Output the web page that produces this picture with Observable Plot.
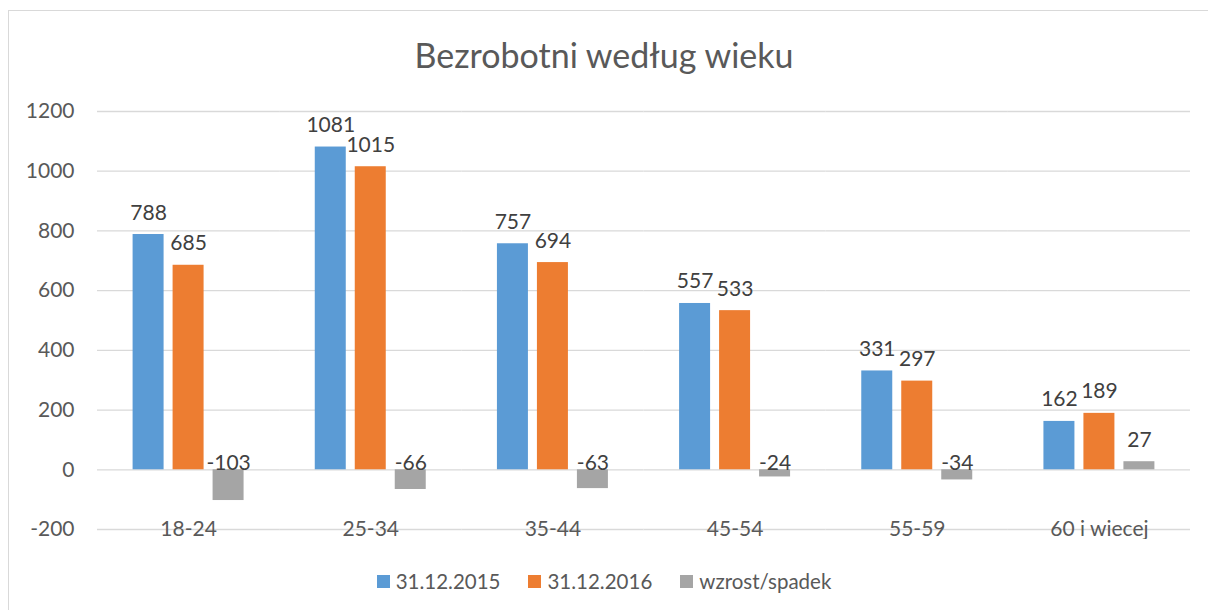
<!DOCTYPE html>
<html><head><meta charset="utf-8">
<script src="https://cdn.jsdelivr.net/npm/d3@7"></script>
<script src="https://cdn.jsdelivr.net/npm/@observablehq/plot@0.6"></script>
<style>
html,body{margin:0;padding:0;background:#fff;}
#wrap{position:relative;width:1208px;height:610px;overflow:hidden;font-family:Lato,"Open Sans",sans-serif;color:#595959;}
#frame{position:absolute;left:8px;top:10px;width:1210px;height:610px;border-left:1.5px solid #d9d9d9;border-top:1.5px solid #d9d9d9;box-sizing:border-box;}
#title{position:absolute;left:0;top:34px;width:1208px;text-align:center;font-size:34px;line-height:42px;}
#chart{position:absolute;left:0;top:88px;}
#legend{position:absolute;left:0;top:568px;width:1208px;display:flex;justify-content:center;font-size:20.5px;line-height:26px;}
#legend .item{display:flex;align-items:center;margin:0 14px;}
#legend .sw{width:13px;height:13px;margin-right:6px;}
</style>
</head><body>
<div id="wrap">
<div id="frame"></div>
<div id="title">Bezrobotni według wieku</div>
<div id="chart"></div>
<div id="legend"></div>
</div>
<script>
const categories = ["18-24","25-34","35-44","45-54","55-59","60 i wiecej"];
const seriesNames = ["31.12.2015","31.12.2016","wzrost/spadek"];
const values2015 = [788,1081,757,557,331,162];
const values2016 = [685,1015,694,533,297,189];
const valuesChange = [-103,-66,-63,-24,-34,27];
const seriesColors = ["#5B9BD5","#ED7D31","#A5A5A5"];
const yTicks = [-200,0,200,400,600,800,1000,1200];

const seriesValues = [values2015, values2016, valuesChange];
const rows = [];
categories.forEach((c,i)=>{
  seriesNames.forEach((s,j)=>{
    rows.push({cat:c, series:s, value:seriesValues[j][i]});
  });
});

const chart = Plot.plot({
  width:1208, height:451,
  marginTop:23, marginBottom:10, marginLeft:97, marginRight:18,
  style:{fontFamily:'Lato,"Open Sans",sans-serif', fontSize:"21px", color:"#595959", background:"transparent"},
  fx:{domain:categories, padding:0, axis:null, round:false},
  x:{domain:seriesNames, paddingInner:0.225, paddingOuter:0.89, axis:null, round:false},
  y:{domain:[-200,1200], axis:null},
  color:{domain:seriesNames, range:seriesColors},
  marks:[
    Plot.gridY(yTicks,{stroke:"#d9d9d9", strokeOpacity:1, strokeWidth:1.3}),
    Plot.barY(rows,{fx:"cat", x:"series", y:"value", fill:"series"}),
    Plot.text(rows.filter(d=>d.value>0),{fx:"cat", x:"series", y:"value", text:d=>String(d.value), lineAnchor:"bottom", dy:-15, fill:"#404040", fontSize:21}),
    Plot.text(rows.filter(d=>d.value<=0),{fx:"cat", x:"series", y:()=>0, text:d=>String(d.value), lineAnchor:"bottom", dy:0, fill:"#404040", fontSize:21}),
    Plot.text(categories,{fx:d=>d, y:()=>-200, text:d=>d, lineAnchor:"middle", fill:"#595959", fontSize:21}),
    Plot.axisY(yTicks,{tickSize:0, tickPadding:23, fontSize:21, fill:"#595959", label:null, tickFormat:d=>String(d)})
  ]
});
document.getElementById("chart").appendChild(chart);

const legend = document.getElementById("legend");
seriesNames.forEach((s,i)=>{
  const it = document.createElement("div"); it.className="item";
  const sw = document.createElement("div"); sw.className="sw"; sw.style.background=seriesColors[i];
  const tx = document.createElement("span"); tx.textContent=s;
  it.appendChild(sw); it.appendChild(tx); legend.appendChild(it);
});
</script>
</body></html>
